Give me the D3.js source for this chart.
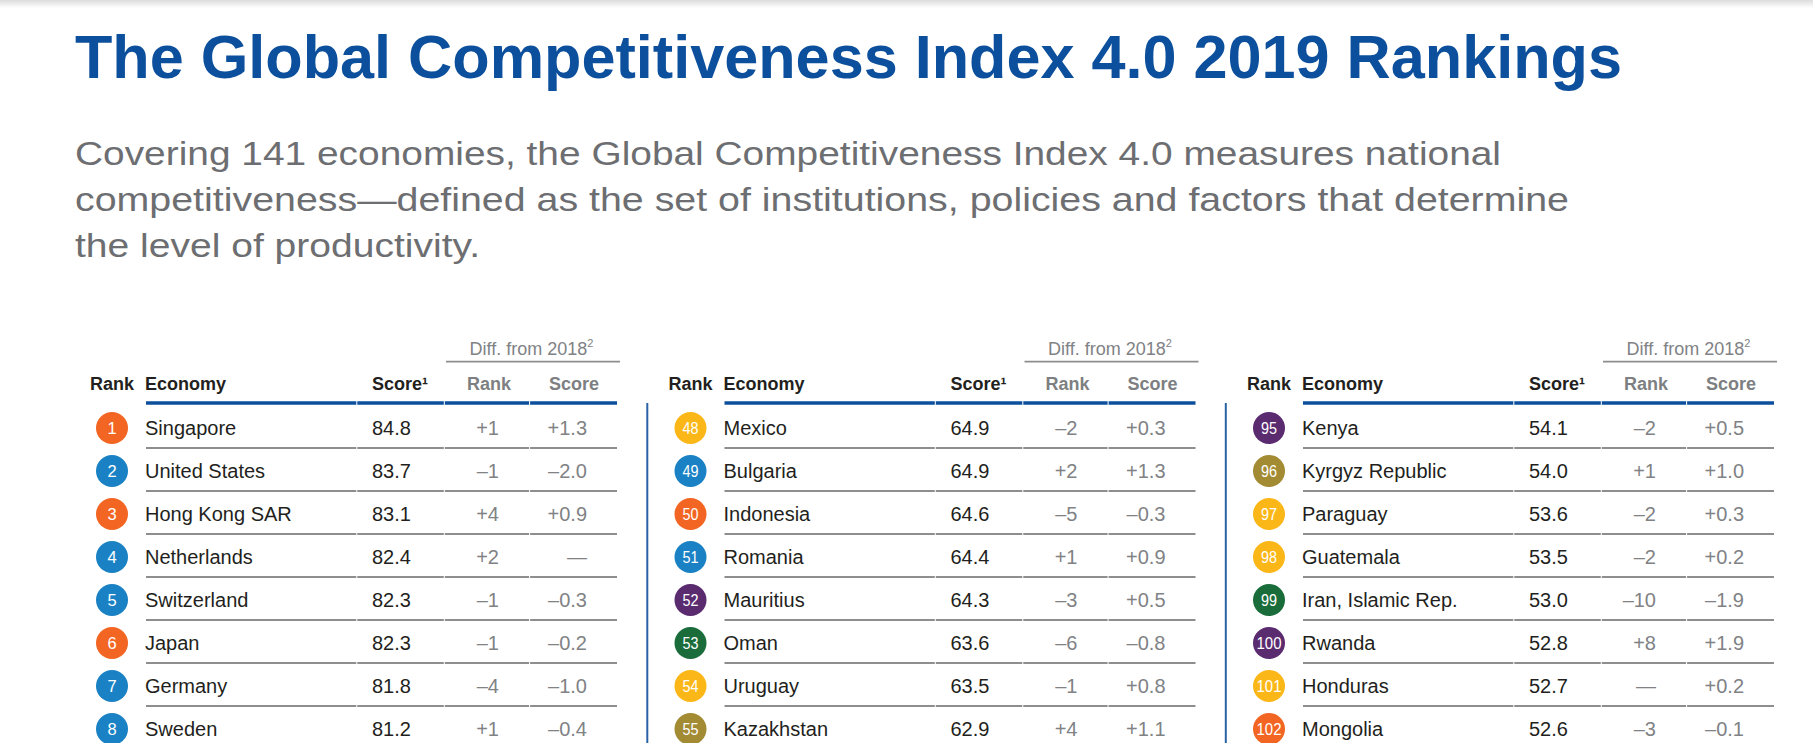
<!DOCTYPE html>
<html>
<head>
<meta charset="utf-8">
<script src="https://cdn.jsdelivr.net/npm/d3@7"></script>
<style>
  html, body { margin: 0; padding: 0; background: #ffffff; }
  svg { display: block; font-family: "Liberation Sans", Arial, Helvetica, sans-serif; }
</style>
</head>
<body>
<svg id="chart" width="1813" height="743"></svg>
<script>
// ---------------- DATA ----------------
const titleText = "The Global Competitiveness Index 4.0 2019 Rankings";
const subtitleLines = [
  "Covering 141 economies, the Global Competitiveness Index 4.0 measures national",
  "competitiveness\u2014defined as the set of institutions, policies and factors that determine",
  "the level of productivity."
];
const headerRank = "Rank";
const headerEconomy = "Economy";
const headerScore = "Score";
const headerDiff = "Diff. from 2018";

// panel 1
const ranks1 = [1, 2, 3, 4, 5, 6, 7, 8];
const economies1 = ["Singapore", "United States", "Hong Kong SAR", "Netherlands", "Switzerland", "Japan", "Germany", "Sweden"];
const scores1 = [84.8, 83.7, 83.1, 82.4, 82.3, 82.3, 81.8, 81.2];
const rankDiff1 = [1, -1, 4, 2, -1, -1, -4, 1];
const scoreDiff1 = [1.3, -2.0, 0.9, 0, -0.3, -0.2, -1.0, -0.4];
const regions1 = ["EAP", "ENA", "EAP", "ENA", "ENA", "EAP", "ENA", "ENA"];

// panel 2
const ranks2 = [48, 49, 50, 51, 52, 53, 54, 55];
const economies2 = ["Mexico", "Bulgaria", "Indonesia", "Romania", "Mauritius", "Oman", "Uruguay", "Kazakhstan"];
const scores2 = [64.9, 64.9, 64.6, 64.4, 64.3, 63.6, 63.5, 62.9];
const rankDiff2 = [-2, 2, -5, 1, -3, -6, -1, 4];
const scoreDiff2 = [0.3, 1.3, -0.3, 0.9, 0.5, -0.8, 0.8, 1.1];
const regions2 = ["LAC", "ENA", "EAP", "ENA", "SSA", "MENA", "LAC", "EUR"];

// panel 3
const ranks3 = [95, 96, 97, 98, 99, 100, 101, 102];
const economies3 = ["Kenya", "Kyrgyz Republic", "Paraguay", "Guatemala", "Iran, Islamic Rep.", "Rwanda", "Honduras", "Mongolia"];
const scores3 = [54.1, 54.0, 53.6, 53.5, 53.0, 52.8, 52.7, 52.6];
const rankDiff3 = [-2, 1, -2, -2, -10, 8, 0, -3];
const scoreDiff3 = [0.5, 1.0, 0.3, 0.2, -1.9, 1.9, 0.2, -0.1];
const regions3 = ["SSA", "EUR", "LAC", "LAC", "MENA", "SSA", "LAC", "EAP"];

const regionKeys = ["EAP", "ENA", "LAC", "SSA", "MENA", "EUR"];
const regionColors = ["#f26522", "#1a82c4", "#fbb718", "#5b2b70", "#1a6d3b", "#a38b34"];

// ---------------- BUILD ----------------
const panels = [
  { ranks: ranks1, economies: economies1, scores: scores1, rankDiff: rankDiff1, scoreDiff: scoreDiff1, regions: regions1 },
  { ranks: ranks2, economies: economies2, scores: scores2, rankDiff: rankDiff2, scoreDiff: scoreDiff2, regions: regions2 },
  { ranks: ranks3, economies: economies3, scores: scores3, rankDiff: rankDiff3, scoreDiff: scoreDiff3, regions: regions3 }
];

const svg = d3.select("#chart");
const blue = "#0c4f9c";
const dark = "#231f20";
const gray = "#808285";
const lineGray = "#8e8e8e";

// top shadow
const defs = svg.append("defs");
const grad = defs.append("linearGradient").attr("id", "topShade").attr("x1", 0).attr("y1", 0).attr("x2", 0).attr("y2", 1);
grad.append("stop").attr("offset", "0%").attr("stop-color", "#dcdcdc");
grad.append("stop").attr("offset", "100%").attr("stop-color", "#ffffff");
svg.append("rect").attr("x", 0).attr("y", 0).attr("width", 1813).attr("height", 8).attr("fill", "url(#topShade)");

// title
svg.append("text")
  .attr("x", 75).attr("y", 78)
  .attr("font-size", 61.5).attr("font-weight", "bold")
  .attr("fill", blue)
  .attr("textLength", 1547).attr("lengthAdjust", "spacingAndGlyphs")
  .text(titleText);

// subtitle
const subWidths = [1426, 1494, 405];
const subY = d3.scalePoint().domain(d3.range(subtitleLines.length)).range([165, 257]);
svg.selectAll("text.sub").data(subtitleLines).join("text")
  .attr("class", "sub")
  .attr("x", 75).attr("y", (d, i) => subY(i))
  .attr("font-size", 33).attr("fill", "#6d6e71")
  .attr("textLength", (d, i) => subWidths[i]).attr("lengthAdjust", "spacingAndGlyphs")
  .text(d => d);

// scales
const panelX = d3.scaleLinear().domain([0, 2]).range([0, 1157]);
const color = d3.scaleOrdinal().domain(regionKeys).range(regionColors);
const fmtScore = d3.format(".1f");
const dash = "\u2013";
function fmtRankDiff(v) {
  if (v === 0) return "\u2014";
  return (v > 0 ? "+" : dash) + Math.abs(v);
}
function fmtScoreDiff(v) {
  if (v === 0) return "\u2014";
  return (v > 0 ? "+" : dash) + fmtScore(Math.abs(v));
}

// column geometry (relative to panel origin)
const col = {
  rankC: 112, econ: 145, score: 372, rdEnd: 499, rdHead: 489, sdEnd: 587, sdHead: 574,
  lineL: 146, lineR: 617, diffL: 446, diffR: 620, breaks: [356.8, 444.3, 529.6]
};

function segLine(g, y, x0, x1, breaks, stroke, width) {
  const pts = [x0].concat(breaks).concat([x1]);
  for (let i = 0; i < pts.length - 1; i++) {
    const a = i === 0 ? pts[i] : pts[i] + 0.5;
    const b = i === pts.length - 2 ? pts[i + 1] : pts[i + 1] - 0.5;
    g.append("line").attr("x1", a).attr("x2", b).attr("y1", y).attr("y2", y)
      .attr("stroke", stroke).attr("stroke-width", width);
  }
}

panels.forEach((p, pi) => {
  const g = svg.append("g").attr("transform", `translate(${panelX(pi)},0)`);
  const y = d3.scalePoint().domain(p.ranks).range([428, 729]);

  // vertical divider for panels 2 and 3
  if (pi > 0) {
    g.append("line").attr("x1", 68.8).attr("x2", 68.8).attr("y1", 403).attr("y2", 743)
      .attr("stroke", "#2a62a8").attr("stroke-width", 2);
  }

  // "Diff. from 2018²"
  const dt = g.append("text").attr("x", 469.5).attr("y", 355)
    .attr("font-size", 18).attr("fill", gray);
  dt.append("tspan").text(headerDiff);
  dt.append("tspan").attr("font-size", 11).attr("dy", -8).text("2");
  g.append("line").attr("x1", col.diffL).attr("x2", col.diffR).attr("y1", 361.7).attr("y2", 361.7)
    .attr("stroke", lineGray).attr("stroke-width", 1.8);

  // headers
  const hy = 390;
  g.append("text").attr("x", col.rankC).attr("y", hy).attr("text-anchor", "middle")
    .attr("font-size", 18).attr("font-weight", "bold").attr("fill", dark).text(headerRank);
  g.append("text").attr("x", col.econ).attr("y", hy)
    .attr("font-size", 18).attr("font-weight", "bold").attr("fill", dark).text(headerEconomy);
  g.append("text").attr("x", col.score).attr("y", hy)
    .attr("font-size", 18).attr("font-weight", "bold").attr("fill", dark).text(headerScore + "\u00b9");
  g.append("text").attr("x", col.rdHead).attr("y", hy).attr("text-anchor", "middle")
    .attr("font-size", 18).attr("font-weight", "bold").attr("fill", "#7d7f82").text(headerRank);
  g.append("text").attr("x", col.sdHead).attr("y", hy).attr("text-anchor", "middle")
    .attr("font-size", 18).attr("font-weight", "bold").attr("fill", "#7d7f82").text(headerScore);

  // blue header rule
  segLine(g, 403, col.lineL, col.lineR, col.breaks, blue, 3.5);

  // rows
  p.ranks.forEach((r, i) => {
    const cy = y(r);
    g.append("circle").attr("cx", col.rankC).attr("cy", cy).attr("r", 16)
      .attr("fill", color(p.regions[i]));
    const rt = g.append("text").attr("x", col.rankC).attr("y", cy + 5.8).attr("text-anchor", "middle")
      .attr("font-size", 16.5).attr("fill", "#ffffff").text(String(r));
    if (String(r).length === 3) rt.attr("textLength", 25).attr("lengthAdjust", "spacingAndGlyphs");
    else if (String(r).length === 2) rt.attr("textLength", 16).attr("lengthAdjust", "spacingAndGlyphs");

    g.append("text").attr("x", col.econ).attr("y", cy + 6.5)
      .attr("font-size", 20).attr("fill", dark).text(p.economies[i]);
    g.append("text").attr("x", col.score).attr("y", cy + 6.5)
      .attr("font-size", 20).attr("fill", dark).text(fmtScore(p.scores[i]));
    g.append("text").attr("x", col.rdEnd).attr("y", cy + 6.5).attr("text-anchor", "end")
      .attr("font-size", 20).attr("fill", gray).text(fmtRankDiff(p.rankDiff[i]));
    g.append("text").attr("x", col.sdEnd).attr("y", cy + 6.5).attr("text-anchor", "end")
      .attr("font-size", 20).attr("fill", gray).text(fmtScoreDiff(p.scoreDiff[i]));

    segLine(g, cy + 20, col.lineL, col.lineR, col.breaks, lineGray, 1.8);
  });
});
</script>
</body>
</html>
